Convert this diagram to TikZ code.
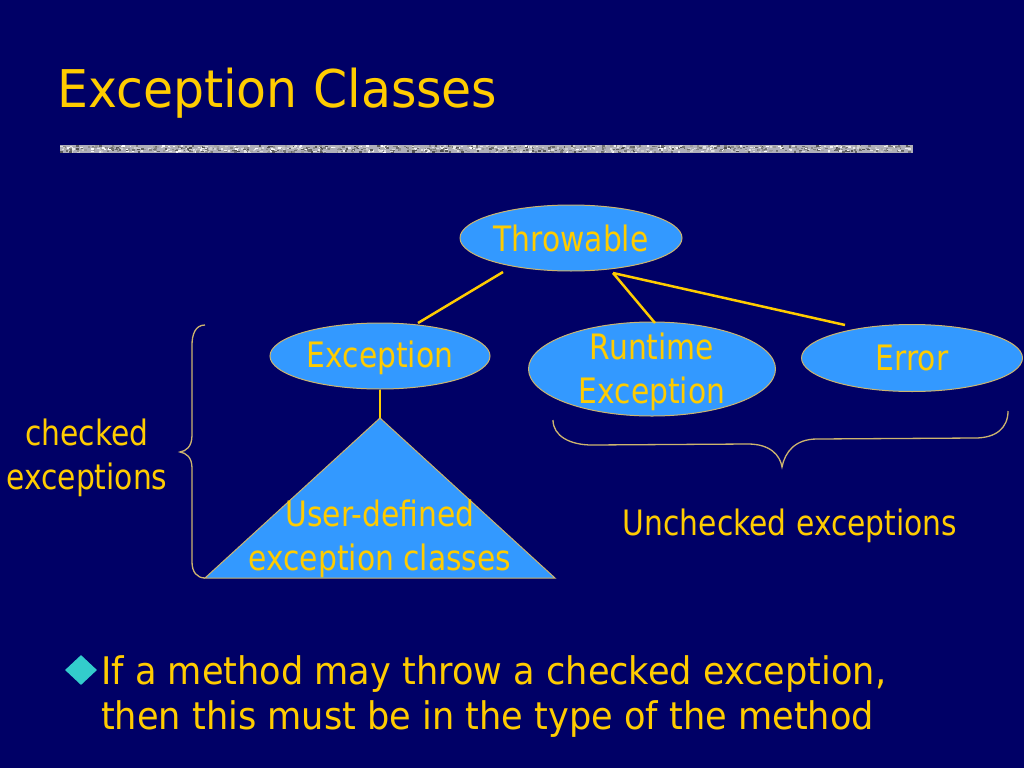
\documentclass[tikz,border=0pt]{standalone}
\usepackage{fontspec}
\setmainfont[FakeStretch=0.85]{DejaVu Sans}
\newfontfamily\bulfont[FakeStretch=0.925]{DejaVu Sans}
\newfontfamily\titfont[FakeStretch=0.94]{DejaVu Sans}
\usetikzlibrary{shapes.geometric}
\definecolor{bg}{RGB}{0,0,102}
\definecolor{gold}{RGB}{255,204,0}
\definecolor{sky}{RGB}{51,153,255}
\definecolor{rim}{RGB}{205,180,110}
\definecolor{teal}{RGB}{51,204,204}
\definecolor{bar}{RGB}{175,175,185}
\tikzset{
  cls/.style={ellipse,draw=rim,line width=1pt,fill=sky,inner sep=0pt},
  lbl/.style={text=gold,font=\fontsize{35}{44}\selectfont,inner sep=0pt,anchor=base},
  link/.style={draw=gold,line width=2.5pt},
  brace/.style={draw=rim,line width=1.3pt}
}
\begin{document}
\begin{tikzpicture}[x=1pt,y=-1pt]
\useasboundingbox (0,0) rectangle (1024,768);
\fill[bg] (0,0) rectangle (1024,768);
% title
\node[text=gold,font=\titfont\fontsize{52}{60}\selectfont,inner sep=0pt,anchor=base west] (title) at (57,107) {Exception Classes};
% separator bar
\fill[bar] (60,145) rectangle (913,153);
\pgfmathsetseed{7}
\foreach \i in {0,...,1100}{
  \pgfmathsetmacro\xx{60+850*rnd}
  \pgfmathsetmacro\yy{145+6.5*rnd}
  \pgfmathsetmacro\gg{30+70*rnd}
  \fill[white!\gg!black] (\xx,\yy) rectangle ++(2.5,1.5);
}
% class ellipses
\node[cls,minimum width=222pt,minimum height=66pt] (thr) at (571,238) {};
\node[cls,minimum width=220pt,minimum height=66pt] (exc) at (380,356) {};
\node[cls,minimum width=247pt,minimum height=94pt] (rte) at (652,369) {};
\node[cls,minimum width=221pt,minimum height=67pt] (err) at (912,358) {};
\node[lbl] (thrt) at (571,251) {Throwable};
\node[lbl] (exct) at (380,367) {Exception};
\node[lbl,align=center] (rtet) at (652,403) {Runtime\\Exception};
\node[lbl] (errt) at (912,370) {Error};
% triangle
\coordinate (apex) at (380,418);
\coordinate (bl) at (205,578);
\coordinate (br) at (555,578);
\draw[rim,line width=1pt,fill=sky] (apex) -- (bl) -- (br) -- cycle;
\node[lbl,align=center] (udc) at (380,570) {User-defined\\exception classes};
% connectors
\draw[link] ([shift={(-68,34)}]thr.center) -- ([shift={(38,-33)}]exc.center);
\draw[link] ([shift={(42,35)}]thr.center) -- ([shift={(3,-46)}]rte.center);
\draw[link] ([shift={(42,35)}]thr.center) -- ([shift={(-67,-33)}]err.center);
\draw[link,line width=2pt] (exc.south) -- (apex);
% braces
\draw[brace] (205,325) .. controls (195,325) and (192,335) .. (192,345) -- (192,435)
  .. controls (192,447) and (186,451) .. (180,452)
  .. controls (186,453) and (192,457) .. (192,468) -- (192,562)
  .. controls (192,572) and (197,578) .. (205,578);
\draw[brace] (553,420) .. controls (553,436) and (570,445) .. (592,445) -- (748,444)
  .. controls (770,444) and (780,455) .. (782,467)
  .. controls (785,452) and (795,439) .. (817,439) -- (975,438)
  .. controls (996,438) and (1008,428) .. (1008,411);
\node[lbl,align=center] (chk) at (87,489) {checked\\exceptions};
\node[lbl] (unchk) at (790,535) {Unchecked exceptions};
% bullet
\node[diamond,fill=teal,inner sep=0pt,minimum width=32pt,minimum height=30pt] (dia) at (81,670) {};
\node[text=gold,font=\bulfont\fontsize{38}{45}\selectfont,inner sep=0pt,anchor=base west,align=left] (bul) at (101,729) {If a method may throw a checked exception,\\then this must be in the type of the method};
\end{tikzpicture}
\end{document}
